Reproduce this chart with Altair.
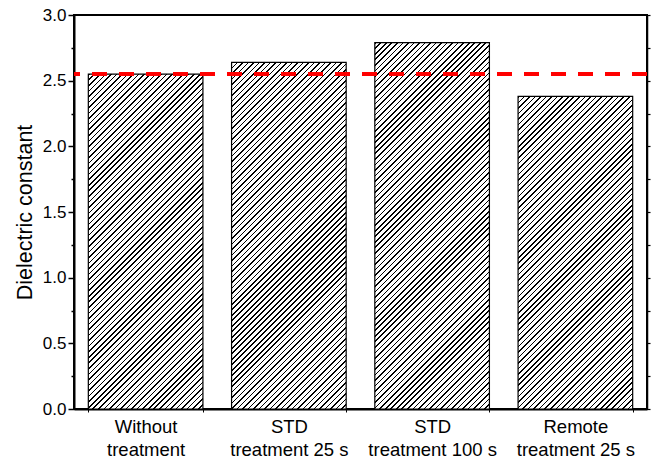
import math
import altair as alt
import pandas as pd

# ---- data ----
categories = ["Without\ntreatment", "STD\ntreatment 25 s", "STD\ntreatment 100 s", "Remote\ntreatment 25 s"]
values = [2.55, 2.64, 2.79, 2.38]
reference_value = 2.55
y_tick_values = [0, 0.25, 0.5, 0.75, 1.0, 1.25, 1.5, 1.75, 2.0, 2.25, 2.5, 2.75, 3.0]
y_domain = [0, 3.0]

df = pd.DataFrame({"category": categories, "value": values})

# ---- layout / style ----
W, H = 573, 394
PAD_INNER, PAD_OUTER = 0.2, 0.1
FONT = "Liberation Sans"
step = W / (len(categories) - PAD_INNER + 2 * PAD_OUTER)
band = step * (1 - PAD_INNER)


def hatch(w, h, pitch=3.9, line=1.15):
    """Linear gradient with hard stops giving 45-degree '/' hatching on a w x h box."""
    k = (w + h) / (w * w + h * h)
    extent = (w + h) / math.sqrt(2)
    n = max(1, round(extent / pitch))
    f = line / (extent / n)
    stops = []
    for i in range(n):
        a = i / n
        b = (i + f) / n
        c = (i + 1) / n
        stops += [
            {"offset": a, "color": "#000000"},
            {"offset": b, "color": "#000000"},
            {"offset": b, "color": "#ffffff"},
            {"offset": c, "color": "#ffffff"},
        ]
    return {"gradient": "linear", "x1": 0, "y1": 0, "x2": k * w, "y2": k * h, "stops": stops}


tick_size_cond = {"condition": {"test": "datum.value % 0.5 !== 0", "value": 3}, "value": 6}

left_axis = alt.Axis(
    values=y_tick_values,
    labelExpr="datum.value % 0.5 === 0 ? format(datum.value, '.1f') : ''",
    tickSize=tick_size_cond,
    tickWidth=1.5,
    tickColor="black",
    domainColor="black",
    domainWidth=2,
    grid=False,
    labelFontSize=17,
    labelPadding=2,
    labelColor="black",
    titleFontSize=21.5,
    titleFontWeight="normal",
    titlePadding=6,
    titleColor="black",
)

x_axis = alt.Axis(
    labelExpr="split(datum.label, '\\n')",
    labelAngle=0,
    labelFontSize=18.5,
    labelLineHeight=23,
    labelPadding=5,
    labelColor="black",
    tickBand="extent",
    tickSize=3,
    tickColor="black",
    domainColor="black",
    domainWidth=2,
    grid=False,
)

x_enc = alt.X(
    "category:N",
    sort=categories,
    scale=alt.Scale(domain=categories, paddingInner=PAD_INNER, paddingOuter=PAD_OUTER),
    axis=x_axis,
    title=None,
)
y_enc = alt.Y(
    "value:Q",
    scale=alt.Scale(domain=y_domain, nice=False),
    axis=left_axis,
    title="Dielectric constant",
)

bar_layers = []
for c, v in zip(categories, values):
    h_px = v / y_domain[1] * H
    bar_layers.append(
        alt.Chart(df)
        .transform_filter({"field": "category", "equal": c})
        .mark_bar(fill=hatch(band, h_px), stroke="black", strokeWidth=1.2)
        .encode(x=x_enc, y=y_enc)
    )

bars = alt.layer(*bar_layers)

right_axis = alt.Axis(
    orient="right",
    values=y_tick_values,
    labels=False,
    tickSize=3,
    tickWidth=1.2,
    tickColor="black",
    domainColor="black",
    domainWidth=1.5,
    grid=False,
    title=None,
)

ref_rule = alt.Chart(df).mark_rule(
    color="#ff0000", strokeWidth=3.5, strokeDash=[15, 12]
).encode(
    y=alt.YDatum(reference_value, type="quantitative",
                 scale=alt.Scale(domain=y_domain, nice=False), axis=right_axis)
)

chart = (
    alt.layer(bars, ref_rule)
    .resolve_axis(y="independent")
    .properties(
        width=W,
        height=H,
        autosize=alt.AutoSizeParams(type="none"),
        padding={"left": 74, "top": 15, "right": 9, "bottom": 51},
        background="white",
    )
    .configure_axis(labelFont=FONT, titleFont=FONT)
    .configure_view(stroke="black", strokeWidth=2)
)

chart.save("out.html", embed_options={"renderer": "svg", "actions": False})
